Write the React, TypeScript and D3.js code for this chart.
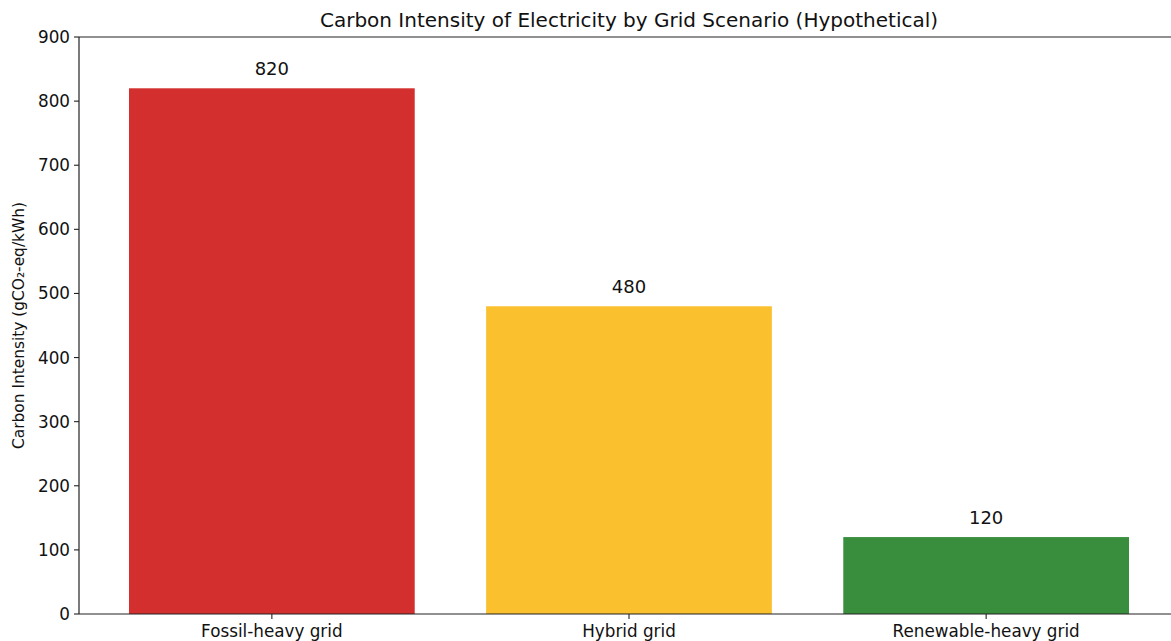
import React from "react";
import * as d3 from "d3";

const categories = ["Fossil-heavy grid", "Hybrid grid", "Renewable-heavy grid"];
const values = [820, 480, 120];
const colors = ["#d32f2f", "#fbc02d", "#388e3c"];
const yTicks = [0, 100, 200, 300, 400, 500, 600, 700, 800, 900];

const W = 1171, H = 641;
const left = 79, right = 1179, top = 37, bottom = 614;
const font = "DejaVu Sans, sans-serif";

export default function App() {
  const x = d3.scaleLinear().domain([-0.54, categories.length - 1 + 0.54]).range([left, right]);
  const y = d3.scaleLinear().domain([0, 900]).range([bottom, top]);
  const bw = x(0.8) - x(0);
  return (
    <svg width={W} height={H} style={{ position: "absolute", left: 0, top: 0, background: "#fff" }} fontFamily={font}>
      <text x={(left + right) / 2} y={27} textAnchor="middle" fontSize={20} fill="#111">
        Carbon Intensity of Electricity by Grid Scenario (Hypothetical)
      </text>
      {categories.map((c, i) => (
        <g key={c}>
          <rect x={x(i) - bw / 2} y={y(values[i])} width={bw} height={y(0) - y(values[i])} fill={colors[i]} />
          <text x={x(i)} y={y(values[i]) - 13} textAnchor="middle" fontSize={18} fill="#111">{values[i]}</text>
          <line x1={x(i)} x2={x(i)} y1={bottom} y2={bottom + 5} stroke="#222" strokeWidth={1.1} />
          <text x={x(i)} y={bottom + 23} textAnchor="middle" fontSize={16.8} fill="#111">{c}</text>
        </g>
      ))}
      {yTicks.map((t) => (
        <g key={t}>
          <line x1={left - 5} x2={left} y1={y(t)} y2={y(t)} stroke="#222" strokeWidth={1.1} />
          <text x={left - 9} y={y(t) + 6} textAnchor="end" fontSize={16.8} fill="#111">{t}</text>
        </g>
      ))}
      <line x1={left} x2={left} y1={top} y2={bottom} stroke="#222" strokeWidth={1.2} />
      <line x1={left} x2={right} y1={bottom} y2={bottom} stroke="#222" strokeWidth={1.2} />
      <line x1={left} x2={right} y1={top} y2={top} stroke="#222" strokeWidth={1.2} />
      <text transform={`translate(24,${(top + bottom) / 2}) rotate(-90)`} textAnchor="middle" fontSize={15.4} fill="#111">
        Carbon Intensity (gCO₂-eq/kWh)
      </text>
    </svg>
  );
}
